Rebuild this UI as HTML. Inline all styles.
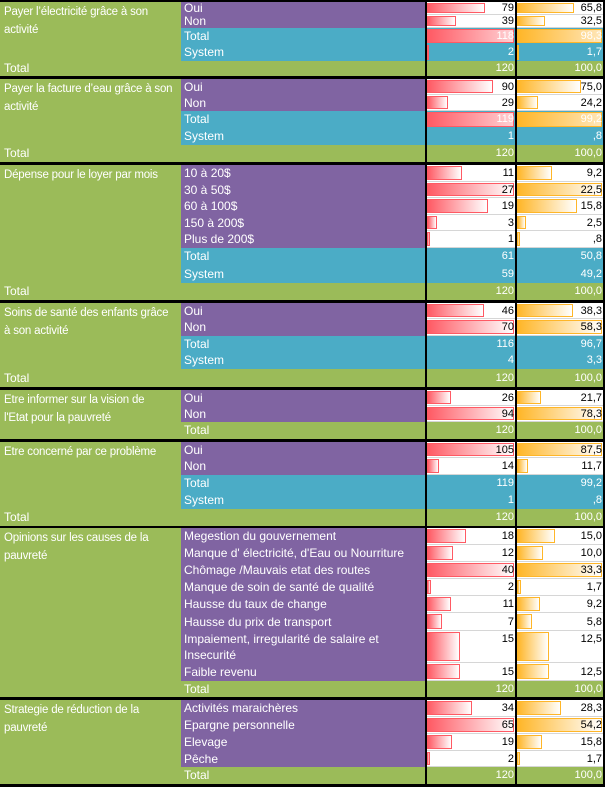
<!DOCTYPE html>
<html><head><meta charset="utf-8"><style>
*{margin:0;padding:0;box-sizing:border-box}
body{width:605px;height:787px;background:#000;position:relative;overflow:hidden;font-family:"Liberation Sans",sans-serif;font-size:12px;color:#fff}
.q{position:absolute;left:0;width:181px;background:#9bbb59;padding:1px 0 0 4px;line-height:18px;color:#fff;white-space:nowrap;overflow:hidden;font-size:11.5px;letter-spacing:-0.2px}
.r{position:absolute;left:181px;width:424px}
.pu{background:#8064a2}.bl{background:#4bacc6}.gr{background:#9bbb59}
.l{position:absolute;left:3px;top:0;white-space:nowrap}
.c,.p{position:absolute;top:0;bottom:0;text-align:right;padding-right:1px;font-size:11px;color:#fff}
.c{left:246px;width:88px}.p{left:336px;width:86px}
.w{background:#fff;color:#000;border-bottom:1px solid #d6d6d6}
.c .b,.p .b{position:absolute;left:0;top:1px;bottom:1px}
.c .b{background:linear-gradient(to right,#ff5a64,#fff);border:1px solid #ff5a64}
.p .b{background:linear-gradient(to right,#ffb628,#fff);border:1px solid #ffb628}
.bl .c .b{background:linear-gradient(to right,#ff5a64,#ffd0d3)}
.bl .p .b{background:linear-gradient(to right,#ffb628,#ffe6b8)}
.t{position:relative;z-index:2}
.tot{position:absolute;left:4px;color:#fff}
.v{position:absolute;top:0;height:787px;width:2px;background:#000}
</style></head><body>

<div class="q" style="top:2px;height:74px">Payer l’électricité grâce à son<br>activité</div>
<div class="q" style="top:79px;height:83px">Payer la facture d’eau grâce à son<br>activité</div>
<div class="q" style="top:165px;height:135px">Dépense pour le loyer par mois</div>
<div class="q" style="top:303px;height:84px">Soins de santé des enfants grâce<br>à son activité</div>
<div class="q" style="top:390px;height:49px">Etre informer sur la vision de<br>l'Etat pour la pauvreté</div>
<div class="q" style="top:442px;height:84px">Etre concerné par ce problème</div>
<div class="q" style="top:528px;height:169px">Opinions sur les causes de la<br>pauvreté</div>
<div class="q" style="top:700px;height:84px">Strategie de réduction de la<br>pauvreté</div>

<div class="r pu" style="top:2px;height:13px;line-height:13px"><span class="l">Oui</span><div class="c w"><div class="b" style="width:58px"></div><span class="t">79</span></div><div class="p w"><div class="b" style="width:57px"></div><span class="t">65,8</span></div></div>
<div class="r pu" style="top:15px;height:13px;line-height:13px"><span class="l">Non</span><div class="c w"><div class="b" style="width:29px"></div><span class="t">39</span></div><div class="p w"><div class="b" style="width:28px"></div><span class="t">32,5</span></div></div>
<div class="r bl" style="top:28px;height:16px;line-height:16px"><span class="l">Total</span><div class="c"><div class="b" style="width:87px"></div><span class="t">118</span></div><div class="p"><div class="b" style="width:85px"></div><span class="t">98,3</span></div></div>
<div class="r bl" style="top:44px;height:17px;line-height:17px"><span class="l">System</span><div class="c"><div class="b" style="width:2px"></div><span class="t">2</span></div><div class="p"><div class="b" style="width:2px"></div><span class="t">1,7</span></div></div>
<div class="r gr" style="top:61px;height:15px;line-height:15px"><div class="c"><span class="t">120</span></div><div class="p"><span class="t">100,0</span></div></div>
<span class="tot" style="top:61px;line-height:15px">Total</span>

<div class="r pu" style="top:79px;height:16px;line-height:16px"><span class="l">Oui</span><div class="c w"><div class="b" style="width:66px"></div><span class="t">90</span></div><div class="p w"><div class="b" style="width:64px"></div><span class="t">75,0</span></div></div>
<div class="r pu" style="top:95px;height:16px;line-height:16px"><span class="l">Non</span><div class="c w"><div class="b" style="width:21px"></div><span class="t">29</span></div><div class="p w"><div class="b" style="width:21px"></div><span class="t">24,2</span></div></div>
<div class="r bl" style="top:111px;height:17px;line-height:17px"><span class="l">Total</span><div class="c"><div class="b" style="width:87px"></div><span class="t">119</span></div><div class="p"><div class="b" style="width:85px"></div><span class="t">99,2</span></div></div>
<div class="r bl" style="top:128px;height:17px;line-height:17px"><span class="l">System</span><div class="c"><span class="t">1</span></div><div class="p"><span class="t">,8</span></div></div>
<div class="r gr" style="top:145px;height:17px;line-height:17px"><div class="c"><span class="t">120</span></div><div class="p"><span class="t">100,0</span></div></div>
<span class="tot" style="top:145px;line-height:17px">Total</span>

<div class="r pu" style="top:165px;height:17px;line-height:17px"><span class="l">10 à 20$</span><div class="c w"><div class="b" style="width:35px"></div><span class="t">11</span></div><div class="p w"><div class="b" style="width:35px"></div><span class="t">9,2</span></div></div>
<div class="r pu" style="top:182px;height:16px;line-height:16px"><span class="l">30 à 50$</span><div class="c w"><div class="b" style="width:87px"></div><span class="t">27</span></div><div class="p w"><div class="b" style="width:85px"></div><span class="t">22,5</span></div></div>
<div class="r pu" style="top:198px;height:17px;line-height:17px"><span class="l">60 à 100$</span><div class="c w"><div class="b" style="width:61px"></div><span class="t">19</span></div><div class="p w"><div class="b" style="width:60px"></div><span class="t">15,8</span></div></div>
<div class="r pu" style="top:215px;height:16px;line-height:16px"><span class="l">150 à 200$</span><div class="c w"><div class="b" style="width:10px"></div><span class="t">3</span></div><div class="p w"><div class="b" style="width:9px"></div><span class="t">2,5</span></div></div>
<div class="r pu" style="top:231px;height:17px;line-height:17px"><span class="l">Plus de 200$</span><div class="c w"><div class="b" style="width:3px"></div><span class="t">1</span></div><div class="p w"><div class="b" style="width:3px"></div><span class="t">,8</span></div></div>
<div class="r bl" style="top:248px;height:17px;line-height:17px"><span class="l">Total</span><div class="c"><span class="t">61</span></div><div class="p"><span class="t">50,8</span></div></div>
<div class="r bl" style="top:265px;height:18px;line-height:18px"><span class="l">System</span><div class="c"><span class="t">59</span></div><div class="p"><span class="t">49,2</span></div></div>
<div class="r gr" style="top:283px;height:17px;line-height:17px"><div class="c"><span class="t">120</span></div><div class="p"><span class="t">100,0</span></div></div>
<span class="tot" style="top:283px;line-height:17px">Total</span>

<div class="r pu" style="top:303px;height:16px;line-height:16px"><span class="l">Oui</span><div class="c w"><div class="b" style="width:57px"></div><span class="t">46</span></div><div class="p w"><div class="b" style="width:56px"></div><span class="t">38,3</span></div></div>
<div class="r pu" style="top:319px;height:17px;line-height:17px"><span class="l">Non</span><div class="c w"><div class="b" style="width:87px"></div><span class="t">70</span></div><div class="p w"><div class="b" style="width:85px"></div><span class="t">58,3</span></div></div>
<div class="r bl" style="top:336px;height:16px;line-height:16px"><span class="l">Total</span><div class="c"><span class="t">116</span></div><div class="p"><span class="t">96,7</span></div></div>
<div class="r bl" style="top:352px;height:17px;line-height:17px"><span class="l">System</span><div class="c"><span class="t">4</span></div><div class="p"><span class="t">3,3</span></div></div>
<div class="r gr" style="top:369px;height:18px;line-height:18px"><div class="c"><span class="t">120</span></div><div class="p"><span class="t">100,0</span></div></div>
<span class="tot" style="top:369px;line-height:18px">Total</span>

<div class="r pu" style="top:390px;height:16px;line-height:16px"><span class="l">Oui</span><div class="c w"><div class="b" style="width:24px"></div><span class="t">26</span></div><div class="p w"><div class="b" style="width:24px"></div><span class="t">21,7</span></div></div>
<div class="r pu" style="top:406px;height:16px;line-height:16px"><span class="l">Non</span><div class="c w"><div class="b" style="width:87px"></div><span class="t">94</span></div><div class="p w"><div class="b" style="width:85px"></div><span class="t">78,3</span></div></div>
<div class="r gr" style="top:422px;height:17px;line-height:17px"><span class="l">Total</span><div class="c"><span class="t">120</span></div><div class="p"><span class="t">100,0</span></div></div>

<div class="r pu" style="top:442px;height:16px;line-height:16px"><span class="l">Oui</span><div class="c w"><div class="b" style="width:87px"></div><span class="t">105</span></div><div class="p w"><div class="b" style="width:85px"></div><span class="t">87,5</span></div></div>
<div class="r pu" style="top:458px;height:17px;line-height:17px"><span class="l">Non</span><div class="c w"><div class="b" style="width:12px"></div><span class="t">14</span></div><div class="p w"><div class="b" style="width:11px"></div><span class="t">11,7</span></div></div>
<div class="r bl" style="top:475px;height:17px;line-height:17px"><span class="l">Total</span><div class="c"><span class="t">119</span></div><div class="p"><span class="t">99,2</span></div></div>
<div class="r bl" style="top:492px;height:17px;line-height:17px"><span class="l">System</span><div class="c"><span class="t">1</span></div><div class="p"><span class="t">,8</span></div></div>
<div class="r gr" style="top:509px;height:17px;line-height:17px"><div class="c"><span class="t">120</span></div><div class="p"><span class="t">100,0</span></div></div>
<span class="tot" style="top:509px;line-height:17px">Total</span>

<div class="r pu" style="top:528px;height:17px;line-height:17px"><span class="l">Megestion du gouvernement</span><div class="c w"><div class="b" style="width:39px"></div><span class="t">18</span></div><div class="p w"><div class="b" style="width:38px"></div><span class="t">15,0</span></div></div>
<div class="r pu" style="top:545px;height:17px;line-height:17px"><span class="l">Manque d' électricité, d'Eau ou Nourriture</span><div class="c w"><div class="b" style="width:26px"></div><span class="t">12</span></div><div class="p w"><div class="b" style="width:26px"></div><span class="t">10,0</span></div></div>
<div class="r pu" style="top:562px;height:17px;line-height:17px"><span class="l">Chômage /Mauvais etat des routes</span><div class="c w"><div class="b" style="width:87px"></div><span class="t">40</span></div><div class="p w"><div class="b" style="width:85px"></div><span class="t">33,3</span></div></div>
<div class="r pu" style="top:579px;height:17px;line-height:17px"><span class="l">Manque de soin de santé de qualité</span><div class="c w"><div class="b" style="width:4px"></div><span class="t">2</span></div><div class="p w"><div class="b" style="width:4px"></div><span class="t">1,7</span></div></div>
<div class="r pu" style="top:596px;height:17px;line-height:17px"><span class="l">Hausse du taux de change</span><div class="c w"><div class="b" style="width:24px"></div><span class="t">11</span></div><div class="p w"><div class="b" style="width:23px"></div><span class="t">9,2</span></div></div>
<div class="r pu" style="top:613px;height:18px;line-height:18px"><span class="l">Hausse du prix de transport</span><div class="c w"><div class="b" style="width:15px"></div><span class="t">7</span></div><div class="p w"><div class="b" style="width:15px"></div><span class="t">5,8</span></div></div>
<div class="r pu" style="top:631px;height:32px;line-height:16px"><span class="l">Impaiement, irregularité de salaire et<br>Insecurité</span><div class="c w"><div class="b" style="width:33px"></div><span class="t">15</span></div><div class="p w"><div class="b" style="width:32px"></div><span class="t">12,5</span></div></div>
<div class="r pu" style="top:663px;height:18px;line-height:18px"><span class="l">Faible revenu</span><div class="c w"><div class="b" style="width:33px"></div><span class="t">15</span></div><div class="p w"><div class="b" style="width:32px"></div><span class="t">12,5</span></div></div>
<div class="r gr" style="top:681px;height:16px;line-height:16px"><span class="l">Total</span><div class="c"><span class="t">120</span></div><div class="p"><span class="t">100,0</span></div></div>

<div class="r pu" style="top:700px;height:17px;line-height:17px"><span class="l">Activités maraichères</span><div class="c w"><div class="b" style="width:45px"></div><span class="t">34</span></div><div class="p w"><div class="b" style="width:44px"></div><span class="t">28,3</span></div></div>
<div class="r pu" style="top:717px;height:17px;line-height:17px"><span class="l">Epargne personnelle</span><div class="c w"><div class="b" style="width:87px"></div><span class="t">65</span></div><div class="p w"><div class="b" style="width:85px"></div><span class="t">54,2</span></div></div>
<div class="r pu" style="top:734px;height:17px;line-height:17px"><span class="l">Elevage</span><div class="c w"><div class="b" style="width:25px"></div><span class="t">19</span></div><div class="p w"><div class="b" style="width:25px"></div><span class="t">15,8</span></div></div>
<div class="r pu" style="top:751px;height:16px;line-height:16px"><span class="l">Pêche</span><div class="c w"><div class="b" style="width:3px"></div><span class="t">2</span></div><div class="p w"><div class="b" style="width:3px"></div><span class="t">1,7</span></div></div>
<div class="r gr" style="top:767px;height:17px;line-height:17px"><span class="l">Total</span><div class="c"><span class="t">120</span></div><div class="p"><span class="t">100,0</span></div></div>

<div class="v" style="left:425px"></div>
<div class="v" style="left:515px"></div>
<div class="v" style="left:603px"></div>
</body></html>
